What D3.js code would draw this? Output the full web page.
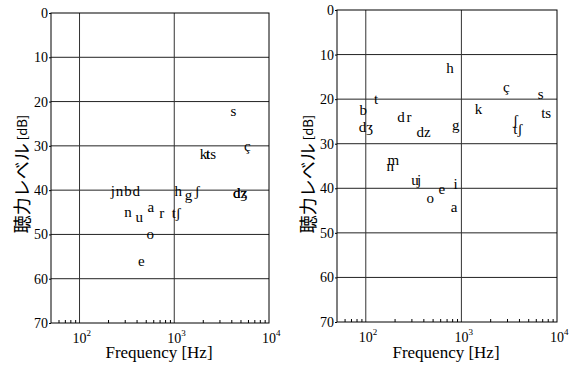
<!DOCTYPE html>
<html>
<head>
<meta charset="utf-8">
<script src="https://cdnjs.cloudflare.com/ajax/libs/d3/7.8.5/d3.min.js"></script>
<style>
  body { margin: 0; background: #fff; }
  svg { display: block; }
</style>
</head>
<body>
<div id="chart"></div>
<script>
// left panel: phoneme labels, frequency [Hz], level [dB]
const leftLabels = ['s', 'ç', 'k', 't', 'ts', 'j', 'n', 'b', 'd', 'h', 'g', 'ʃ', 'dz', 'dʒ', 'n', 'u', 'a', 'r', 'tʃ', 'o', 'e'];
const leftFreqs = [4200, 5900, 2040, 2280, 2450, 225, 264, 324, 398, 1100, 1410, 1750, 4950, 4950, 324, 428, 566, 738, 1050, 558, 450];
const leftLevels = [22.5, 30.3, 32.1, 32.1, 32.1, 40.5, 40.5, 40.5, 40.5, 40.5, 41.3, 40.5, 41, 41, 45.2, 46.3, 44, 45.4, 45.4, 50.3, 56.4];

// right panel
const rightLabels = ['h', 'ç', 's', 'ts', 'k', 'ʃ', 'tʃ', 't', 'b', 'dʒ', 'd', 'r', 'dz', 'g', 'm', 'n', 'u', 'j', 'e', 'i', 'o', 'a'];
const rightFreqs = [760, 2960, 6760, 7710, 1510, 3670, 3900, 128, 94, 100, 233, 284, 402, 875, 194, 180, 328, 361, 625, 869, 473, 840];
const rightLevels = [13.2, 17.6, 19.2, 23.4, 22.5, 24.9, 27, 20.3, 22.7, 26.5, 24.3, 24.3, 27.6, 26.2, 34, 35.3, 38.5, 38.5, 40.4, 39.3, 42.5, 44.5];

const yTicks = [0, 10, 20, 30, 40, 50, 60, 70];
const xMajor = [100, 1000, 10000];
const xMinor = [60, 70, 80, 90, 200, 300, 400, 500, 600, 700, 800, 900, 2000, 3000, 4000, 5000, 6000, 7000, 8000, 9000];

// 聴力レベル
const yTitle = '\u8074\u529b\u30ec\u30d9\u30eb';

const width = 569, height = 365;
const serif = "'Liberation Serif', serif";

const svg = d3.select('#chart').append('svg')
  .attr('width', width)
  .attr('height', height);

function drawPanel(box, labels, freqs, levels) {
  const x = d3.scaleLog().domain([50, 10000]).range([box.x0, box.x1]);
  const y = d3.scaleLinear().domain([0, 70]).range([box.y0, box.y1]);
  const g = svg.append('g');

  // horizontal grid
  g.selectAll('line.hgrid').data(yTicks.slice(1, -1))
    .enter().append('line')
    .attr('x1', box.x0).attr('x2', box.x1)
    .attr('y1', d => y(d)).attr('y2', d => y(d))
    .attr('stroke', '#222').attr('stroke-width', 1);

  // vertical grid
  g.selectAll('line.vgrid').data([100, 1000])
    .enter().append('line')
    .attr('x1', d => x(d)).attr('x2', d => x(d))
    .attr('y1', box.y0).attr('y2', box.y1)
    .attr('stroke', '#333').attr('stroke-width', 1);

  // minor ticks along bottom
  const minorG = g.append('g')
    .attr('transform', `translate(0,${box.y1})`)
    .call(d3.axisBottom(x).tickValues(xMinor).tickSize(-3).tickFormat(''));
  minorG.select('.domain').remove();
  minorG.selectAll('line').attr('stroke', '#000');

  // frame
  g.append('rect')
    .attr('x', box.x0).attr('y', box.y0)
    .attr('width', box.x1 - box.x0).attr('height', box.y1 - box.y0)
    .attr('fill', 'none').attr('stroke', '#000').attr('stroke-width', 1);

  // y axis
  const yAxisG = g.append('g')
    .attr('transform', `translate(${box.x0},0)`)
    .call(d3.axisLeft(y).tickValues(yTicks).tickSize(2).tickPadding(1));
  yAxisG.select('.domain').remove();
  yAxisG.selectAll('text')
    .style('font-family', serif).style('font-size', '14px').attr('fill', '#000');

  // x tick labels 10^n
  const xl = g.selectAll('text.xl').data(xMajor)
    .enter().append('text')
    .attr('x', d => x(d) - 7)
    .attr('y', box.y1 + 19.5)
    .style('font-family', serif)
    .style('font-size', '14px');
  xl.append('tspan').text('10');
  xl.append('tspan').attr('dy', -7).style('font-size', '9px').text(d => Math.round(Math.log10(d)));

  g.append('text')
    .attr('x', (box.x0 + box.x1) / 2 - 1)
    .attr('y', 358)
    .attr('text-anchor', 'middle')
    .style('font-family', serif)
    .style('font-size', '17px')
    .text('Frequency [Hz]');

  const yl = g.append('text')
    .attr('transform', `translate(${box.x0 - 30},174) rotate(-90)`)
    .attr('text-anchor', 'middle')
    .attr('dominant-baseline', 'central')
    .style('font-family', "'Noto Sans CJK JP', sans-serif")
    .style('font-size', '18px');
  yl.append('tspan').text(yTitle);
  yl.append('tspan').style('font-size', '13px').text('  [dB]');

  // phoneme labels
  const pts = labels.map((l, i) => ({ label: l, f: freqs[i], v: levels[i] }));
  g.selectAll('text.pt').data(pts)
    .enter().append('text')
    .attr('x', d => x(d.f))
    .attr('y', d => y(d.v) + 3.7)
    .attr('text-anchor', 'middle')
    .style('font-family', serif)
    .style('font-size', '15px')
    .text(d => d.label);
}

drawPanel({ x0: 51, x1: 269, y0: 13, y1: 323 }, leftLabels, leftFreqs, leftLevels);
drawPanel({ x0: 337, x1: 557, y0: 10, y1: 322 }, rightLabels, rightFreqs, rightLevels);
</script>
</body>
</html>
